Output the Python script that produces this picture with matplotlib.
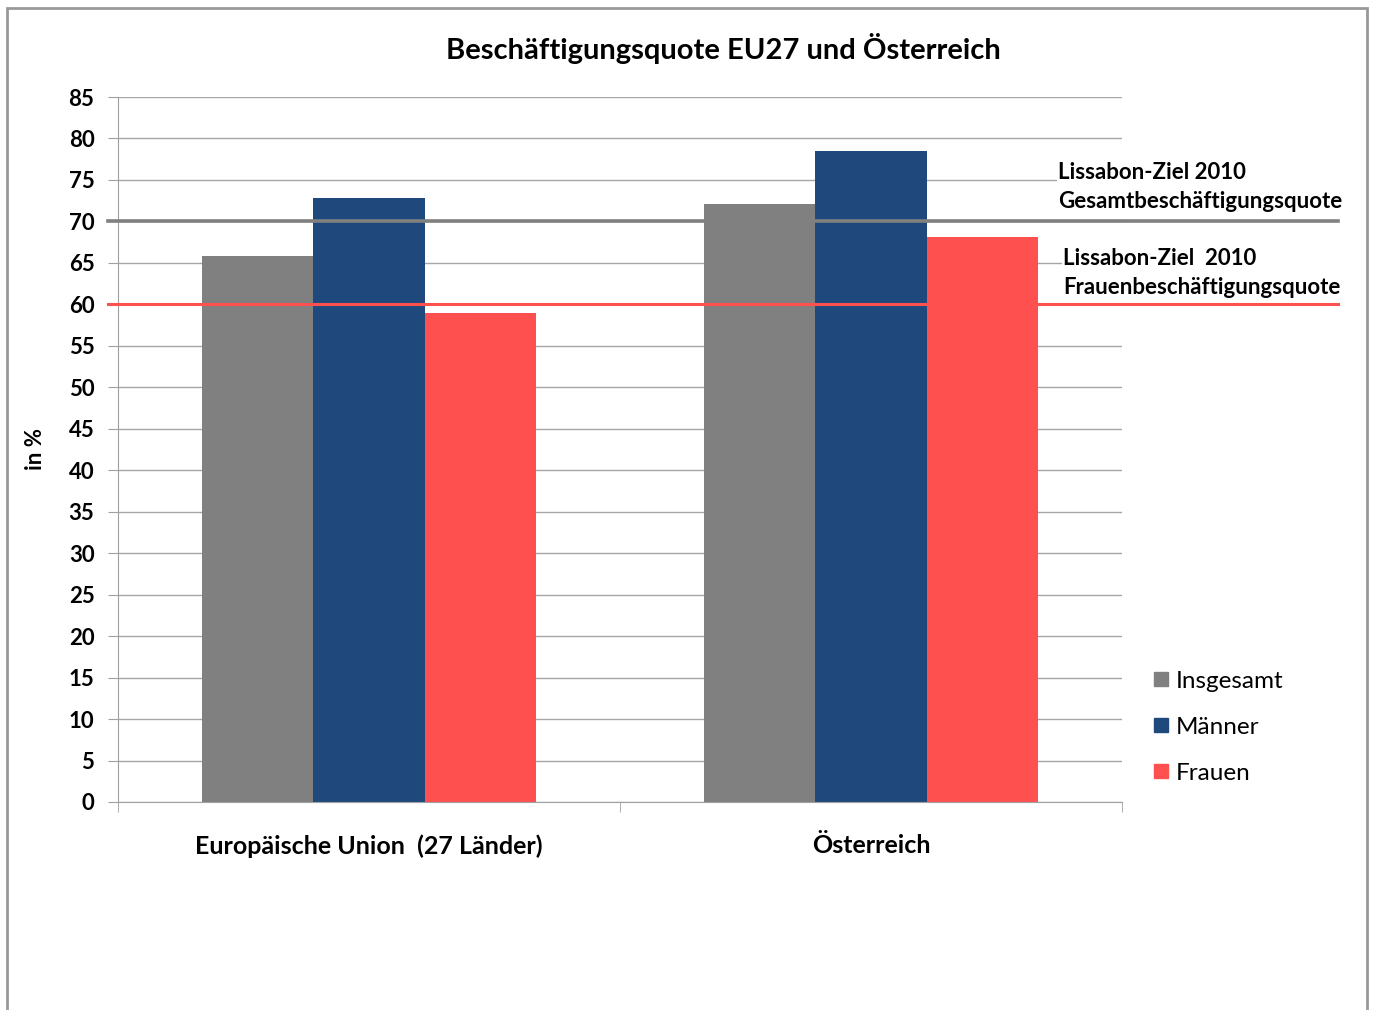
import matplotlib
matplotlib.use("Agg")
import matplotlib.pyplot as plt
import numpy as np
from matplotlib.lines import Line2D
from matplotlib.patches import Rectangle

plt.rcParams['font.family'] = ['Lato', 'DejaVu Sans']

categories = ['Europäische Union  (27 Länder)', 'Österreich']
series = ['Insgesamt', 'Männer', 'Frauen']
insgesamt = [65.8, 72.1]
maenner = [72.8, 78.5]
frauen = [59.0, 68.1]
ziel_gesamt = 70
ziel_frauen = 60
colors = ['#808080', '#1F497D', '#FF5050']

fig = plt.figure(figsize=(13.76, 10.10), dpi=100)
ax = fig.add_axes((118/1376, 208/1010, 1004/1376, 705/1010))

x = np.arange(len(categories))
w = 0.222
for i, (vals, c) in enumerate(zip([insgesamt, maenner, frauen], colors)):
    ax.bar(x + (i - 1) * w, vals, w, color=c, zorder=2)

# Lissabon-Ziele, reaching past the plot area
ax.plot([-0.52, 1.93], [ziel_gesamt, ziel_gesamt], color='#808080', lw=2.6, zorder=3, clip_on=False)
ax.plot([-0.52, 1.93], [ziel_frauen, ziel_frauen], color='#FF5050', lw=2.2, zorder=3, clip_on=False)

ax.set_xlim(-0.5, 1.5)
ax.set_ylim(0, 85)
ax.set_yticks(np.arange(0, 86, 5))
ax.yaxis.grid(True, color='#A6A6A6', lw=1)
ax.set_axisbelow(True)
for s in ['top', 'right']:
    ax.spines[s].set_visible(False)
for s in ['left', 'bottom']:
    ax.spines[s].set_color('#A0A0A0')
ax.tick_params(axis='y', length=7, color='#A0A0A0', labelsize=16, pad=10)
for t in ax.get_yticklabels():
    t.set_fontweight('bold')
ax.set_xticks(x)
ax.set_xticklabels(categories, fontsize=18, fontweight='bold')
ax.tick_params(axis='x', which='major', length=0, pad=23)
ax.set_xticks([-0.5, 0.5, 1.5], minor=True)
ax.tick_params(axis='x', which='minor', length=7, color='#A0A0A0')
ax.set_ylabel('in %', fontsize=16, fontweight='bold', labelpad=16)

fig.text(0.526, 1 - 48/1010, 'Beschäftigungsquote EU27 und Österreich',
         ha='center', va='center', fontsize=21, fontweight='bold')

bb = dict(facecolor='white', edgecolor='none', pad=1)
fig.text(1058/1376, 1 - 187/1010, 'Lissabon-Ziel 2010\nGesamtbeschäftigungsquote',
         ha='left', va='center', fontsize=16, fontweight='bold', linespacing=1.5,
         bbox=bb, zorder=5)
fig.text(1063/1376, 1 - 273/1010, 'Lissabon-Ziel  2010\nFrauenbeschäftigungsquote',
         ha='left', va='center', fontsize=16, fontweight='bold', linespacing=1.5,
         bbox=bb, zorder=5)

handles = [Line2D([], [], marker='s', ls='none', color=c, markersize=10) for c in colors]
fig.legend(handles, series, loc='upper left', bbox_to_anchor=(1125/1376, 1 - 649/1010),
           frameon=False, fontsize=17.5, handletextpad=0.0, labelspacing=1.02, handlelength=1.2)

fig.patches.append(Rectangle((7/1376, -0.1), 1360/1376, 1.1 - 8/1010, transform=fig.transFigure,
                             fill=False, edgecolor='#999999', lw=2))

fig.savefig('out.png', dpi=100)
